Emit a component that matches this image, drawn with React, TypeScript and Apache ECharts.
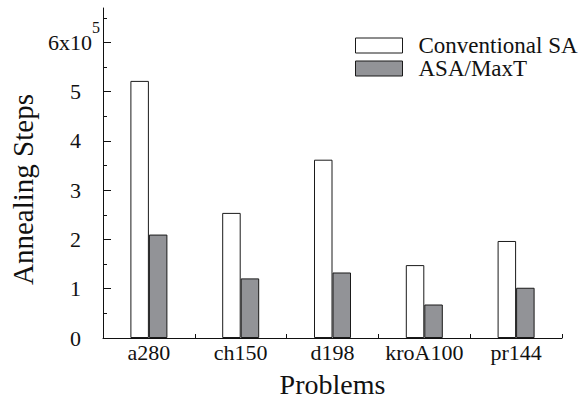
import React, { useEffect, useRef } from 'react';
import * as echarts from 'echarts';

const problems = ['a280', 'ch150', 'd198', 'kroA100', 'pr144'];
const seriesNames = ['Conventional SA', 'ASA/MaxT'];
const conventionalSA = [522000, 254000, 362000, 148000, 197000];
const asaMaxT = [210000, 121000, 133000, 68000, 102000];
const yMajorTicks = [0, 100000, 200000, 300000, 400000, 500000, 600000];
const yMinorTicks = [50000, 150000, 250000, 350000, 450000, 550000, 650000];

const FONT = 'Liberation Serif';
const INK = '#111111';

export default function App() {
  const ref = useRef<HTMLDivElement>(null);

  useEffect(() => {
    if (!ref.current) return;
    const chart = echarts.init(ref.current, null, { renderer: 'svg' });
    const axisLineStyle = { color: INK, width: 1 };
    chart.setOption({
      animation: false,
      backgroundColor: '#ffffff',
      textStyle: { fontFamily: FONT },
      grid: { left: 103, top: 8, width: 459, height: 330, containLabel: false, outerBoundsMode: 'none' },
      legend: {
        orient: 'vertical',
        left: 355,
        top: 34,
        padding: 0,
        itemGap: 0,
        itemWidth: 47,
        itemHeight: 15,
        icon: 'rect',
        selectedMode: false,
        data: seriesNames,
        itemStyle: { borderColor: '#1a1a1a', borderWidth: 1 },
        formatter: '{t|{name}}',
        textStyle: {
          fontFamily: FONT,
          fontSize: 23,
          color: INK,
          lineHeight: 22,
          rich: {
            t: { fontFamily: FONT, fontSize: 23, color: INK, lineHeight: 22, padding: [0, 0, 0, 11] },
          },
        },
      },
      xAxis: {
        type: 'category',
        data: problems,
        axisLine: { lineStyle: axisLineStyle },
        axisTick: { show: true, inside: true, length: 4, lineStyle: axisLineStyle },
        axisLabel: { interval: 0, fontFamily: FONT, fontSize: 22, color: INK, margin: 3 },
        splitLine: { show: false },
        name: 'Problems',
        nameLocation: 'middle',
        nameGap: 32,
        nameTextStyle: { fontFamily: FONT, fontSize: 28, color: INK, lineHeight: 28 },
      },
      yAxis: [
        {
          type: 'value',
          position: 'left',
          min: 0,
          max: 670000,
          interval: 100000,
          axisLine: { show: true, lineStyle: axisLineStyle },
          axisTick: { show: true, inside: true, length: 8, lineStyle: axisLineStyle, customValues: yMajorTicks },
          axisLabel: {
            customValues: yMajorTicks,
            margin: 3,
            color: INK,
            fontFamily: FONT,
            formatter: (v: number) => {
              const n = Math.round(v / 100000);
              return n === 6 ? '{b|6x10}{s|5}' : '{n|' + n + '}';
            },
            rich: {
              b: { fontFamily: FONT, fontSize: 22, color: INK, lineHeight: 22 },
              s: { fontFamily: FONT, fontSize: 16, color: INK, lineHeight: 16, padding: [0, 0, 30, 0] },
              n: { fontFamily: FONT, fontSize: 22, color: INK, lineHeight: 22, padding: [0, 19, 0, 0] },
            },
          },
          splitLine: { show: false },
          name: 'Annealing Steps',
          nameLocation: 'middle',
          nameGap: 55,
          nameTextStyle: { fontFamily: FONT, fontSize: 29, color: INK, padding: [0, 33, 0, 0] },
        },
        {
          type: 'value',
          position: 'left',
          min: 0,
          max: 670000,
          interval: 100000,
          axisLine: { show: false },
          axisTick: { show: true, inside: true, length: 4, lineStyle: axisLineStyle, customValues: yMinorTicks },
          axisLabel: { show: false },
          splitLine: { show: false },
        },
      ],
      series: [
        {
          name: seriesNames[0],
          type: 'bar',
          data: conventionalSA,
          barWidth: 18.5,
          barGap: '0%',
          itemStyle: { color: '#ffffff', borderColor: '#1a1a1a', borderWidth: 1 },
        },
        {
          name: seriesNames[1],
          type: 'bar',
          data: asaMaxT,
          barWidth: 18.5,
          barGap: '0%',
          itemStyle: { color: '#929397', borderColor: '#1a1a1a', borderWidth: 1 },
        },
      ],
    });
    return () => chart.dispose();
  }, []);

  return <div ref={ref} style={{ width: 587, height: 399, position: 'fixed', left: 0, top: 0 }} />;
}
